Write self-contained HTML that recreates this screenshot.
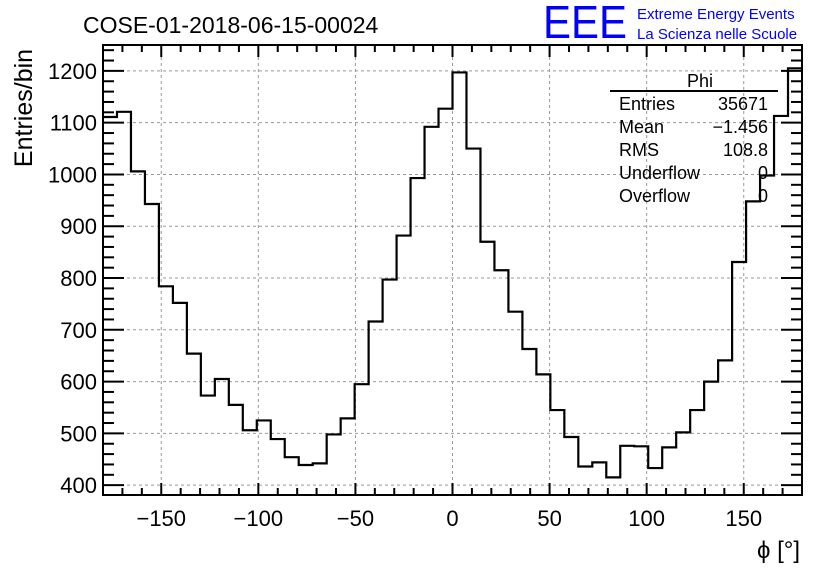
<!DOCTYPE html>
<html><head><meta charset="utf-8"><style>
body{margin:0;background:#fff;}
svg{display:block;font-family:"Liberation Sans",sans-serif;}
</style></head><body>
<svg id="c" width="836" height="572" viewBox="0 0 836 572">
<rect width="836" height="572" fill="#fff"/>
<text x="83" y="33" font-size="23">COSE-01-2018-06-15-00024</text>
<text x="543" y="38" font-size="46" fill="#0000ff" textLength="84" lengthAdjust="spacingAndGlyphs">EEE</text>
<text x="637" y="19" font-size="15" fill="#0000ff">Extreme Energy Events</text>
<text x="637" y="39" font-size="15" fill="#0000ff">La Scienza nelle Scuole</text>
<text transform="translate(32,108) rotate(-90)" text-anchor="middle" font-size="25">Entries/bin</text>
<text x="800" y="558" text-anchor="end" font-size="24">ϕ [°]</text>
<g id="grid"></g>
<g id="hist"></g>
<g id="axes"></g>
<g id="stats">
<rect x="610" y="66" width="168" height="140" fill="#fff" opacity="0"/>
<text x="700" y="87" text-anchor="middle" font-size="18">Phi</text>
<line x1="610" y1="91" x2="778" y2="91" stroke="#000" stroke-width="2"/>
<text x="619" y="110" font-size="18">Entries</text>
<text x="768" y="110" font-size="18" text-anchor="end">35671</text>
<text x="619" y="133" font-size="18">Mean</text>
<text x="768" y="133" font-size="18" text-anchor="end">−1.456</text>
<text x="619" y="156" font-size="18">RMS</text>
<text x="768" y="156" font-size="18" text-anchor="end">108.8</text>
<text x="619" y="179" font-size="18">Underflow</text>
<text x="768" y="179" font-size="18" text-anchor="end">0</text>
<text x="619" y="202" font-size="18">Overflow</text>
<text x="768" y="202" font-size="18" text-anchor="end">0</text>
</g>
</svg>
<script>
const binLow = -180, binWidth = 7.2;
const counts = [1111,1121,1006,943,784,752,654,573,605,555,506,525,489,454,439,442,498,529,595,716,797,882,993,1092,1127,
1197,1050,870,815,735,663,614,545,493,436,444,415,476,475,433,473,502,545,600,641,831,948,998,1113,1205];
const xTicks = [-150,-100,-50,0,50,100,150];
const yTicks = [400,500,600,700,800,900,1000,1100,1200];
const X0=103,X1=802,Y0=45,Y1=495;
const xMin=-180,xMax=180,yMin=381,yMax=1250;
function sx(v){return X0+(v-xMin)/(xMax-xMin)*(X1-X0);}
function sy(v){return Y1-(v-yMin)/(yMax-yMin)*(Y1-Y0);}
const NS='http://www.w3.org/2000/svg';
function mk(tag,attrs,parent){const e=document.createElementNS(NS,tag);for(const k in attrs)e.setAttribute(k,attrs[k]);parent.appendChild(e);return e;}
const grid=document.getElementById('grid'),hist=document.getElementById('hist'),axes=document.getElementById('axes');
xTicks.forEach(t=>{const l=mk('line',{x1:sx(t),x2:sx(t),y1:Y0,y2:Y1,stroke:'#999','stroke-dasharray':'3,3','stroke-width':1},grid);

});
yTicks.forEach(t=>{const l=mk('line',{x1:X0,x2:X1,y1:sy(t),y2:sy(t),stroke:'#999','stroke-dasharray':'3,3','stroke-width':1},grid);

});
let d='M'+sx(binLow)+','+sy(counts[0]);
counts.forEach((c,i)=>{const a=binLow+i*binWidth,b=a+binWidth;d+=' L'+sx(a)+','+sy(c)+' L'+sx(b)+','+sy(c);});
const p=mk('path',{d:d,fill:'none',stroke:'#000','stroke-width':2.2},hist);


const fr=mk('rect',{x:X0,y:Y0,width:X1-X0,height:Y1-Y0,fill:'none',stroke:'#000','stroke-width':2},axes);


for(let v=-180;v<=180;v+=10){const maj=v%50===0;const L=maj?12:7;
mk('line',{x1:sx(v),x2:sx(v),y1:Y1,y2:Y1-L,stroke:'#000','stroke-width':2},axes);
mk('line',{x1:sx(v),x2:sx(v),y1:Y0,y2:Y0+L,stroke:'#000','stroke-width':2},axes);}
for(let v=400;v<=1240;v+=20){const maj=v%100===0;const L=maj?21:11;
mk('line',{x1:X0,x2:X0+L,y1:sy(v),y2:sy(v),stroke:'#000','stroke-width':2},axes);
mk('line',{x1:X1,x2:X1-L,y1:sy(v),y2:sy(v),stroke:'#000','stroke-width':2},axes);}
xTicks.forEach(t=>{const e=mk('text',{x:sx(t),y:526,'text-anchor':'middle','font-size':22},axes);e.textContent=t<0?'−'+(-t):String(t);

});
yTicks.forEach(t=>{const e=mk('text',{x:97,y:sy(t)+8,'text-anchor':'end','font-size':22},axes);e.textContent=String(t);

});
</script>
</body></html>
